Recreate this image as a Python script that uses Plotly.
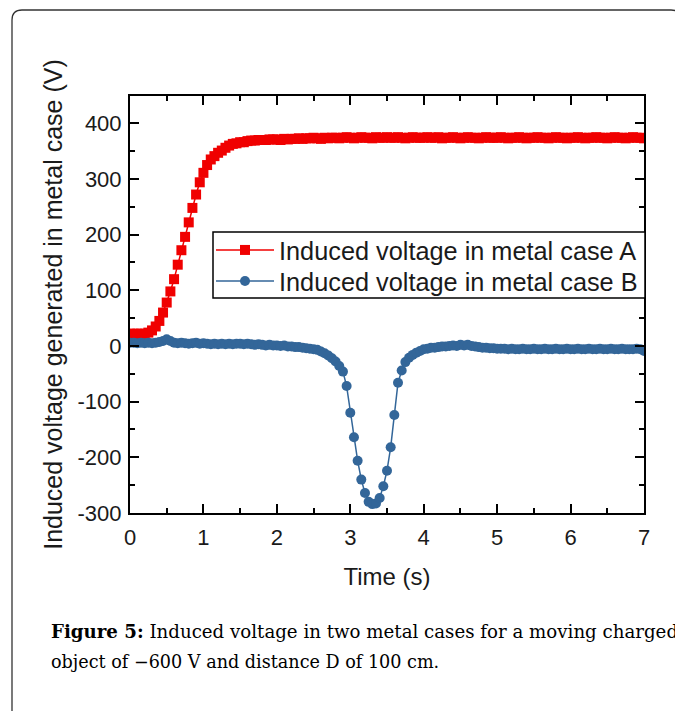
import plotly.graph_objects as go

# ---- data ----
time_s = [
    0.00, 0.05, 0.10, 0.15, 0.20, 0.25, 0.30, 0.35, 0.40, 0.45,
    0.50, 0.55, 0.60, 0.65, 0.70, 0.75, 0.80, 0.85, 0.90, 0.95,
    1.00, 1.05, 1.10, 1.15, 1.20, 1.25, 1.30, 1.35, 1.40, 1.45,
    1.50, 1.55, 1.60, 1.65, 1.70, 1.75, 1.80, 1.85, 1.90, 1.95,
    2.00, 2.05, 2.10, 2.15, 2.20, 2.25, 2.30, 2.35, 2.40, 2.45,
    2.50, 2.55, 2.60, 2.65, 2.70, 2.75, 2.80, 2.85, 2.90, 2.95,
    3.00, 3.05, 3.10, 3.15, 3.20, 3.25, 3.30, 3.35, 3.40, 3.45,
    3.50, 3.55, 3.60, 3.65, 3.70, 3.75, 3.80, 3.85, 3.90, 3.95,
    4.00, 4.05, 4.10, 4.15, 4.20, 4.25, 4.30, 4.35, 4.40, 4.45,
    4.50, 4.55, 4.60, 4.65, 4.70, 4.75, 4.80, 4.85, 4.90, 4.95,
    5.00, 5.05, 5.10, 5.15, 5.20, 5.25, 5.30, 5.35, 5.40, 5.45,
    5.50, 5.55, 5.60, 5.65, 5.70, 5.75, 5.80, 5.85, 5.90, 5.95,
    6.00, 6.05, 6.10, 6.15, 6.20, 6.25, 6.30, 6.35, 6.40, 6.45,
    6.50, 6.55, 6.60, 6.65, 6.70, 6.75, 6.80, 6.85, 6.90, 6.95,
    7.00,
]

voltage_case_a = [
    22, 22, 22, 22, 22, 24, 28, 35, 45, 60,
    78, 98, 120, 146, 172, 196, 222, 248, 272, 294,
    311, 325, 335, 341, 347, 351, 356, 360, 363, 364,
    366, 366, 368, 369, 369, 370, 370, 370, 371, 371,
    371, 370, 372, 371, 372, 372, 373, 372, 373, 373,
    374, 373, 372, 374, 373, 374, 374, 373, 374, 375,
    374, 373, 374, 375, 374, 374, 373, 375, 374, 374,
    375, 374, 374, 375, 374, 373, 374, 375, 374, 374,
    374, 375, 374, 374, 375, 373, 374, 374, 375, 374,
    373, 374, 375, 374, 374, 373, 374, 375, 374, 374,
    374, 375, 374, 373, 374, 374, 375, 374, 373, 374,
    374, 375, 374, 374, 373, 374, 375, 374, 374, 373,
    374, 374, 375, 374, 373, 374, 374, 375, 374, 374,
    373, 374, 375, 374, 374, 373, 374, 375, 374, 374,
    373,
]

voltage_case_b = [
    6, 6, 5, 6, 5, 6, 5, 6, 7, 9,
    12, 9, 6, 5, 6, 5, 4, 5, 6, 4,
    5, 4, 3, 4, 3, 4, 3, 4, 3, 4,
    4, 3, 4, 3, 2, 3, 2, 1, 2, 1,
    1, 0, 1, -1, -1, -2, -2, -3, -4, -5,
    -6, -7, -10, -13, -17, -22, -28, -36, -46, -72,
    -120, -164, -206, -240, -264, -280, -284, -283, -273, -252,
    -224, -182, -124, -66, -44, -29, -21, -16, -12, -9,
    -6, -5, -3, -3, -2, -1, -1, 0, 1, 0,
    2, 1, 2, 0, -1, -2, -3, -3, -4, -4,
    -5, -5, -5, -6, -5, -6, -6, -5, -6, -6,
    -5, -6, -6, -5, -6, -6, -5, -6, -6, -5,
    -6, -6, -5, -6, -6, -5, -6, -6, -5, -6,
    -6, -5, -6, -6, -5, -6, -6, -6, -5, -6,
    -9,
]

series_names = ["Induced voltage in metal case A", "Induced voltage in metal case B"]
x_tick_vals = [0, 1, 2, 3, 4, 5, 6, 7]
x_tick_text = ["0", "1", "2", "3", "4", "5", "6", "7"]
y_tick_vals = [-300, -200, -100, 0, 100, 200, 300, 400]
y_tick_text = ["-300", "-200", "-100", "0", "100", "200", "300", "400"]

x_title = "Time (s)"
y_title = "Induced voltage generated in metal case (V)"
caption_line1 = "<b>Figure 5:</b> Induced voltage in two metal cases for a moving charged"
caption_line2 = "object of \u2212600 V and distance D of 100 cm."

# ---- figure ----
SANS = "Liberation Sans, Arial, sans-serif"
SERIF = "DejaVu Serif, serif"
RED = "#f00000"
BLUE = "#336699"
TXT = "#1a1a1a"

OFF = 8  # page body margin
W, H = 683 - OFF, 711 - OFF
# plot area in reference (window) pixels
PL, PR, PT, PB = 130, 644, 96, 513
L, R, T, B = PL - OFF, W - (PR - OFF), PT - OFF, H - (PB - OFF)
pw, ph = W - L - R, H - T - B


def px(xw):
    return (xw - OFF - L) / pw


def py(yw):
    return (H - B - (yw - OFF)) / ph


fig = go.Figure()
fig.add_trace(go.Scatter(
    x=time_s, y=voltage_case_a, name=series_names[0], mode="lines+markers",
    line=dict(color=RED, width=1.5),
    marker=dict(symbol="square", size=10, color=RED),
    legend="legend",
))
fig.add_trace(go.Scatter(
    x=time_s, y=voltage_case_b, name=series_names[1], mode="lines+markers",
    line=dict(color=BLUE, width=1.5),
    marker=dict(symbol="circle", size=10, color=BLUE),
    legend="legend2",
))

axis_common = dict(
    showline=True, linecolor="black", linewidth=2, mirror="ticks",
    ticks="inside", ticklen=9, tickwidth=1.5, tickcolor="black",
    showgrid=False, zeroline=False,
    tickfont=dict(family=SANS, size=22, color=TXT),
)

fig.update_xaxes(
    range=[0, 7], tickvals=x_tick_vals, ticktext=x_tick_text, ticklabelstandoff=4,
    minor=dict(ticks="inside", ticklen=5, tickwidth=1.5, tickcolor="black", dtick=0.5, showgrid=False),
    title=dict(text=x_title, font=dict(family=SANS, size=24, color=TXT), standoff=19),
    **axis_common,
)
fig.update_yaxes(
    range=[-300, 449], tickvals=y_tick_vals, ticktext=y_tick_text, ticklabelstandoff=2,
    minor=dict(ticks="inside", ticklen=5, tickwidth=1.5, tickcolor="black", dtick=50, showgrid=False),
    title=dict(text=y_title, font=dict(family=SANS, size=25, color=TXT), standoff=8),
    **axis_common,
)

# outer rounded frame
x0, x1 = px(12), px(681)
y0, y1 = py(10), py(740)
rx, ry = 10 / pw, 10 / ph
frame = (f"M {x0},{y1} L {x0},{y0 - ry} Q {x0},{y0} {x0 + rx},{y0} "
         f"L {x1 - rx},{y0} Q {x1},{y0} {x1},{y0 - ry} L {x1},{y1}")
fig.add_shape(type="path", path=frame, xref="paper", yref="paper",
              line=dict(color="#333333", width=1.3), layer="below")

# legend frame (white box with black border, above the data)
fig.add_shape(type="rect", xref="paper", yref="paper",
              x0=px(213), x1=px(645), y0=py(298), y1=py(232),
              fillcolor="white", line=dict(color="black", width=1.5), layer="above")

fig.add_annotation(text=caption_line1, xref="paper", yref="paper",
                   x=px(49), y=py(631), xanchor="left", yanchor="middle",
                   showarrow=False, font=dict(family=SERIF, size=18.2, color="black"))
fig.add_annotation(text=caption_line2, xref="paper", yref="paper",
                   x=px(49), y=py(662), xanchor="left", yanchor="middle",
                   showarrow=False, font=dict(family=SERIF, size=17.6, color="black"))

legend_common = dict(
    xanchor="left", yanchor="middle",
    bgcolor="rgba(0,0,0,0)", borderwidth=0,
    font=dict(family=SANS, size=25.3, color=TXT),
    itemwidth=58,
)

fig.update_layout(
    width=W, height=H,
    margin=dict(l=L, r=R, t=T, b=B, autoexpand=False),
    paper_bgcolor="white", plot_bgcolor="white",
    showlegend=True,
    legend=dict(x=px(211), y=py(250), **legend_common),
    legend2=dict(x=px(211), y=py(281), **legend_common),
)

fig.write_html("out.html")
